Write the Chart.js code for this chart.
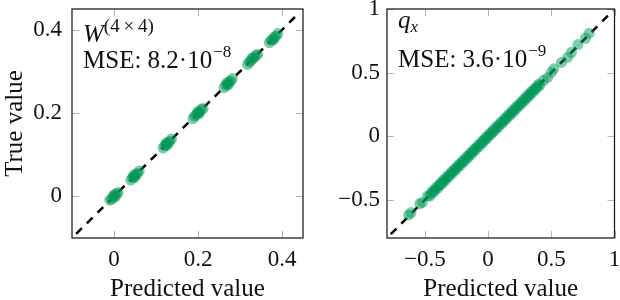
<!DOCTYPE html>
<html>
<head>
<meta charset="utf-8">
<script src="https://cdn.jsdelivr.net/npm/chart.js@4.4.0/dist/chart.umd.min.js"></script>
<style>
  html, body { margin: 0; padding: 0; background: #fff; }
  #wrap { position: relative; width: 620px; height: 300px; }
  .panel { position: absolute; top: 0; width: 310px; height: 300px; }
  #probe { position: absolute; left: -999px; top: 0; font-family: 'Liberation Serif'; }
</style>
</head>
<body>
<div id="wrap">
  <div class="panel" style="left:0"><canvas id="leftChart" width="310" height="300"></canvas></div>
  <div class="panel" style="left:310px"><canvas id="rightChart" width="310" height="300"></canvas></div>
</div>
<span id="probe">Predicted <i>value</i></span>
<script>
// W(4x4) panel: predicted vs true (clusters)
const leftPred = [
  -0.010, -0.006, -0.002, 0.002, 0.006, 0.010, 0.000, 0.003,
  0.040, 0.044, 0.048, 0.052, 0.056, 0.060, 0.050, 0.047,
  0.117, 0.121, 0.125, 0.129, 0.133, 0.137, 0.127, 0.124,
  0.188, 0.192, 0.196, 0.200, 0.204, 0.208, 0.212, 0.199, 0.203,
  0.262, 0.266, 0.270, 0.274, 0.278, 0.282, 0.272, 0.269,
  0.318, 0.322, 0.326, 0.330, 0.334, 0.338, 0.342, 0.329,
  0.370, 0.374, 0.378, 0.382, 0.386, 0.390, 0.380
];
const leftTrue = [
  -0.009, -0.007, -0.001, 0.002, 0.007, 0.009, 0.004, -0.002,
  0.039, 0.045, 0.047, 0.053, 0.055, 0.061, 0.046, 0.051,
  0.116, 0.122, 0.124, 0.130, 0.132, 0.138, 0.123, 0.128,
  0.187, 0.193, 0.195, 0.201, 0.203, 0.209, 0.211, 0.203, 0.199,
  0.261, 0.267, 0.269, 0.275, 0.277, 0.283, 0.268, 0.273,
  0.317, 0.323, 0.325, 0.331, 0.333, 0.339, 0.341, 0.333,
  0.369, 0.375, 0.377, 0.383, 0.385, 0.391, 0.376
];
const leftLine = [-0.09, 0.44];
const leftTicks = [0, 0.2, 0.4];

// q_x panel
const rightPred = [
  -0.63, -0.61, -0.54, -0.52, -0.48,
  -0.46, -0.45, -0.44, -0.43, -0.42, -0.41, -0.40, -0.39, -0.38, -0.37,
  -0.36, -0.35, -0.34, -0.33, -0.32, -0.31, -0.30, -0.29, -0.28, -0.27,
  -0.26, -0.25, -0.24, -0.23, -0.22, -0.21, -0.20, -0.19, -0.18, -0.17,
  -0.16, -0.15, -0.14, -0.13, -0.12, -0.11, -0.10, -0.09, -0.08, -0.07,
  -0.06, -0.05, -0.04, -0.03, -0.02, -0.01, 0.00, 0.01, 0.02, 0.03,
  0.04, 0.05, 0.06, 0.07, 0.08, 0.09, 0.10, 0.11, 0.12, 0.13,
  0.14, 0.15, 0.16, 0.17, 0.18, 0.19, 0.20, 0.21, 0.22, 0.23,
  0.24, 0.25, 0.26, 0.27, 0.28, 0.29, 0.30, 0.31, 0.32, 0.33,
  0.34, 0.35, 0.36, 0.37, 0.38, 0.39, 0.40, 0.41,
  0.44, 0.47, 0.50, 0.52, 0.58, 0.63, 0.66, 0.71, 0.77, 0.80
];
const rightTrue = [
  -0.62, -0.60, -0.53, -0.52, -0.47,
  -0.47, -0.45, -0.43, -0.44, -0.42, -0.40, -0.41, -0.39, -0.37, -0.38,
  -0.36, -0.34, -0.35, -0.33, -0.31, -0.32, -0.30, -0.28, -0.29, -0.27,
  -0.25, -0.26, -0.24, -0.22, -0.23, -0.21, -0.19, -0.20, -0.18, -0.16,
  -0.17, -0.15, -0.13, -0.14, -0.12, -0.10, -0.11, -0.09, -0.07, -0.08,
  -0.06, -0.04, -0.05, -0.03, -0.01, -0.02, 0.00, 0.02, 0.01, 0.03,
  0.05, 0.04, 0.06, 0.08, 0.07, 0.09, 0.11, 0.10, 0.12, 0.14,
  0.13, 0.15, 0.17, 0.16, 0.18, 0.20, 0.19, 0.21, 0.23, 0.22,
  0.24, 0.26, 0.25, 0.27, 0.29, 0.28, 0.30, 0.32, 0.31, 0.33,
  0.35, 0.34, 0.36, 0.38, 0.37, 0.39, 0.41, 0.40,
  0.44, 0.46, 0.50, 0.53, 0.58, 0.62, 0.66, 0.72, 0.77, 0.81
];
const rightLine = [-0.77, 0.99];
const rightTicks = [-0.5, 0, 0.5, 1];

const green = 'rgba(0, 153, 85, 0.5)';
const serif = "'Liberation Serif', 'DejaVu Serif', serif";

function toPoints(xs, ys) {
  return xs.map((v, i) => ({ x: v, y: ys[i] }));
}

function fmt(v) {
  return String(v).replace('-', '\u2212');
}

// box frame, inward ticks and the two text labels
const framePlugin = {
  id: 'frame',
  afterDraw(chart, args, opts) {
    const { ctx, chartArea: a, scales } = chart;
    ctx.save();
    ctx.strokeStyle = '#b4b4b4';
    ctx.lineWidth = 1;
    ctx.beginPath();
    scales.x.ticks.forEach(t => {
      const px = Math.round(scales.x.getPixelForValue(t.value)) + 0.5;
      ctx.moveTo(px, a.bottom); ctx.lineTo(px, a.bottom - 7);
      ctx.moveTo(px, a.top); ctx.lineTo(px, a.top + 7);
    });
    scales.y.ticks.forEach(t => {
      const py = Math.round(scales.y.getPixelForValue(t.value)) + 0.5;
      ctx.moveTo(a.left, py); ctx.lineTo(a.left + 7, py);
      ctx.moveTo(a.right, py); ctx.lineTo(a.right - 7, py);
    });
    ctx.stroke();

    ctx.strokeStyle = '#222';
    ctx.lineWidth = 1.3;
    ctx.strokeRect(a.left, a.top, a.right - a.left, a.bottom - a.top);

    ctx.fillStyle = '#111';
    ctx.textBaseline = 'alphabetic';
    ctx.textAlign = 'left';
    opts.label(ctx, a);
    ctx.restore();
  }
};

function drawMse(ctx, a, base, exp, baseY) {
  const x0 = a.left + 11;
  ctx.font = '25px ' + serif;
  ctx.fillText(base, x0, a.top + baseY);
  const w = ctx.measureText(base).width;
  ctx.font = '17px ' + serif;
  ctx.fillText(exp, x0 + w + 1, a.top + baseY - 11);
}

function makeChart(canvasId, pred, truth, line, ticks, cfg) {
  const xr = cfg.range, yr = cfg.range;
  return new Chart(document.getElementById(canvasId), {
    type: 'scatter',
    data: {
      datasets: [
        {
          data: toPoints(pred, truth),
          backgroundColor: green,
          borderWidth: 0,
          pointRadius: cfg.radius,
          order: 1
        },
        {
          data: toPoints(line, line),
          showLine: true,
          borderColor: '#000',
          borderWidth: 2.5,
          borderDash: [8, 7],
          pointRadius: 0,
          order: 2
        }
      ]
    },
    options: {
      responsive: false,
      devicePixelRatio: 1,
      animation: false,
      events: [],
      layout: { padding: { left: 0, right: cfg.padRight, top: 9, bottom: 0 } },
      plugins: {
        legend: { display: false },
        tooltip: { enabled: false },
        frame: { label: cfg.label }
      },
      scales: {
        x: {
          type: 'linear', min: xr[0], max: xr[1],
          grid: { display: false, drawTicks: false },
          border: { display: false },
          afterBuildTicks: s => { s.ticks = ticks.map(v => ({ value: v })); },
          afterFit: s => { s.height = 62; s.paddingLeft = 0; s.paddingRight = 0; },
          ticks: { padding: 8, color: '#111', font: { family: serif, size: 23 }, callback: fmt, maxRotation: 0 },
          title: { display: true, text: 'Predicted value', color: '#111', font: { family: serif, size: 25, lineHeight: 0.85 }, padding: 0 }
        },
        y: {
          type: 'linear', min: yr[0], max: yr[1],
          grid: { display: false, drawTicks: false },
          border: { display: false },
          afterBuildTicks: s => { s.ticks = ticks.map(v => ({ value: v })); },
          afterFit: s => { s.width = cfg.yWidth; s.paddingTop = 0; s.paddingBottom = 0; },
          ticks: { padding: cfg.yPad, color: '#111', font: { family: serif, size: 23 }, callback: fmt },
          title: { display: cfg.yTitle, text: 'True value', color: '#111', font: { family: serif, size: 25, lineHeight: 1.2 }, padding: 0 }
        }
      }
    },
    plugins: [framePlugin]
  });
}

function init() {
  makeChart('leftChart', leftPred, leftTrue, leftLine, leftTicks, {
    range: [-0.1, 0.45], radius: 5.5, padRight: 7, yWidth: 72, yPad: 10, yTitle: true,
    label: (ctx, a) => {
      ctx.font = 'italic 25px ' + serif;
      ctx.fillText('W', a.left + 11, a.top + 33);
      const w = ctx.measureText('W').width;
      ctx.font = '19px ' + serif;
      ctx.fillText('(4\u2009\u00d7\u20094)', a.left + 11 + w, a.top + 23);
      drawMse(ctx, a, 'MSE: 8.2\u00b710', '\u22128', 59);
    }
  });

  makeChart('rightChart', rightPred, rightTrue, rightLine, rightTicks, {
    range: [-0.8, 1], radius: 5.5, padRight: 3, yWidth: 77, yPad: 7, yTitle: false,
    label: (ctx, a) => {
      ctx.font = 'italic 25px ' + serif;
      ctx.fillText('q', a.left + 11, a.top + 19);
      const w = ctx.measureText('q').width;
      ctx.font = 'italic 17px ' + serif;
      ctx.fillText('x', a.left + 11 + w, a.top + 23);
      drawMse(ctx, a, 'MSE: 3.6\u00b710', '\u22129', 58);
    }
  });
}

Promise.all([
  document.fonts.load("22px 'Liberation Serif'"),
  document.fonts.load("italic 22px 'Liberation Serif'")
]).then(init, init);
</script>
</body>
</html>
